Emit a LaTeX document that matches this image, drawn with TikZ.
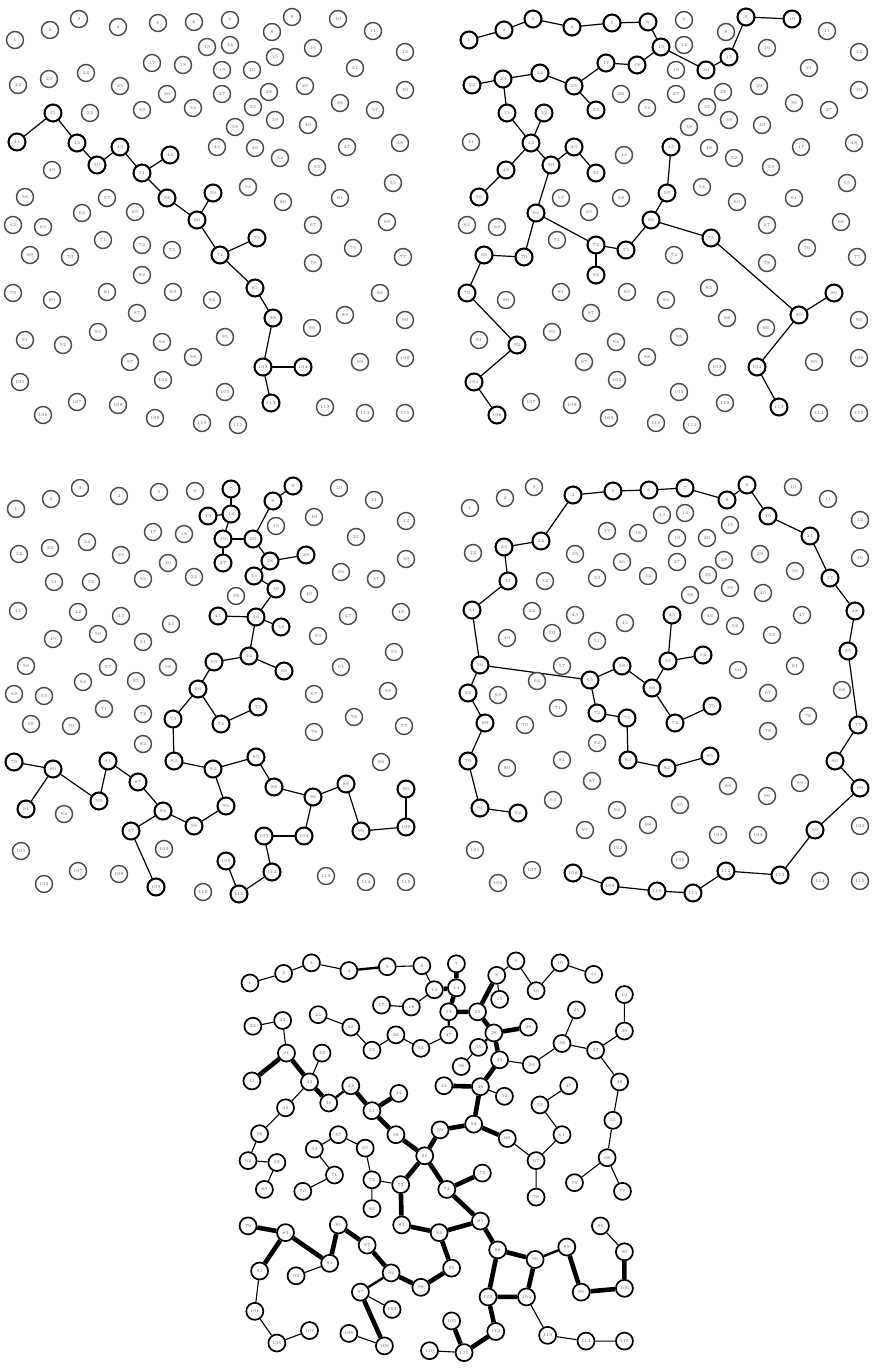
\documentclass[tikz,border=0pt]{standalone}
\usetikzlibrary{backgrounds}

% vertex positions (index/x/y), shared by all five panels
\newcommand{\vertexlist}{%
1/15/40,2/50/30,3/79/19,4/118/27,5/158/23,6/194/22,7/230/20,8/272/32,9/292/17,10/338/19,%
11/373/31,12/405/52,13/207/47,14/230/45,15/275/57,16/313/48,17/152/63,18/183/65,19/222/70,20/252/70,%
21/355/68,22/18/85,23/49/79,24/86/73,25/120/86,26/167/94,27/222/94,28/269/92,29/305/86,30/405/90,%
31/53/113,32/90/113,33/142/110,34/193/108,35/253/107,36/340/103,37/375/110,38/235/127,39/275/120,40/308/125,%
41/17/142,42/77/143,43/120/147,44/170/155,45/217/147,46/255/148,47/347/147,48/400/143,49/52/170,50/97/165,%
51/142/173,52/280/158,53/317/167,54/248/187,55/393/183,56/25/197,57/107/198,58/167/198,59/213/193,60/283/202,%
61/340/198,62/13/225,63/43/227,64/82/213,65/135/212,66/197/220,67/313/225,68/387/222,69/30/255,70/70/257,%
71/103/240,72/142/245,73/172/250,74/220/255,75/257/238,76/353/248,77/403/257,78/313/263,79/13/293,80/52/300,%
81/107/292,82/142/275,83/173/292,84/212/300,85/255/288,86/380/293,87/137/313,88/273/318,89/345/315,90/405/320,%
91/25/340,92/63/345,93/98/332,94/162/342,95/225/337,96/312/328,97/130/362,98/193/357,99/360/362,100/405/358,%
101/20/382,102/163/380,103/263/367,104/303/367,105/225/392,106/43/415,107/77/402,108/118/405,109/155/418,110/202/423,%
111/238/425,112/271/403,113/325/407,114/365/413,115/405/413}

% #1 = name prefix, #2 = vertex style
\newcommand{\placevertices}[2]{\foreach \i/\x/\y in \vertexlist {\node[#2] (#1-\i) at (\x,\y) {\i};}}

\tikzset{
  vertex/.style={circle,draw=black!72,line width=1.4pt,fill=white,minimum size=17pt,inner sep=0pt,
    font=\fontsize{4.5}{4.5}\selectfont,text=black!60},
  darkvertex/.style={vertex,draw=black,line width=1.7pt},
  pathring/.style={draw=black,line width=2pt},
  link/.style={draw=black,line width=1.2pt},
  thinlink/.style={draw=black,line width=1.1pt},
  midlink/.style={draw=black,line width=2.4pt},
  thicklink/.style={draw=black,line width=4.6pt},
}

\begin{document}
\begin{tikzpicture}[x=1pt,y=-1pt]
\useasboundingbox (0,0) rectangle (871,1368);

% panel 1: top left
\begin{scope}
\placevertices{a}{vertex}
\begin{scope}[on background layer]
\foreach \u/\v in {41/31,31/42,42/50,50/43,43/51,51/44,51/58,58/66,59/66,66/74,74/75,74/85,85/88,88/103,103/104,103/112}
  \draw[link] (a-\u) -- (a-\v);
\end{scope}
\foreach \i in {41,31,42,50,43,51,44,58,66,59,74,75,85,88,103,104,112}
  \draw[pathring] (a-\i.center) circle[radius=8.5pt];
\end{scope}

% panel 2: top right
\begin{scope}[shift={(454,0)}]
\placevertices{b}{vertex}
\begin{scope}[on background layer]
\foreach \u/\v in {1/2,2/3,3/4,4/5,5/6,6/13,13/20,20/15,15/9,9/10,13/18,18/17,17/25,25/24,25/33,24/23,23/22,23/31,
  31/42,42/32,42/49,49/56,42/50,50/43,43/51,50/64,64/70,70/69,69/79,79/92,92/101,101/106,64/72,72/82,72/73,
  73/66,66/59,59/45,66/75,75/89,89/86,89/104,104/113}
  \draw[link] (b-\u) -- (b-\v);
\end{scope}
\foreach \i in {1,2,3,4,5,6,13,20,15,9,10,18,17,25,24,33,23,22,31,42,32,49,56,50,43,51,64,70,69,79,92,101,106,
  72,82,73,66,59,45,75,89,86,104,113}
  \draw[pathring] (b-\i.center) circle[radius=8.5pt];
\end{scope}

% panel 3: middle left
\begin{scope}[shift={(1,469)}]
\placevertices{c}{vertex}
\begin{scope}[on background layer]
\foreach \u/\v in {7/14,14/13,14/19,19/27,19/20,20/8,8/9,20/28,28/29,28/35,35/39,39/46,46/45,46/52,46/54,54/59,
  54/60,59/66,66/73,66/74,74/75,73/83,83/84,84/85,85/88,88/96,96/89,89/99,99/100,100/90,96/104,104/103,
  103/112,112/111,111/105,84/95,95/98,98/94,94/87,87/81,81/93,93/80,80/79,80/91,94/97,97/109}
  \draw[link] (c-\u) -- (c-\v);
\end{scope}
\foreach \i in {7,14,13,19,27,20,8,9,28,29,35,39,46,45,52,54,59,60,66,73,74,75,83,84,85,88,96,89,99,100,90,
  104,103,112,111,105,95,98,94,87,81,93,80,79,91,97,109}
  \draw[pathring] (c-\i.center) circle[radius=8.5pt];
\end{scope}

% panel 4: middle right
\begin{scope}[shift={(455,468)}]
\placevertices{d}{vertex}
\begin{scope}[on background layer]
\foreach \u/\v in {4/5,5/6,6/7,7/8,8/9,9/16,16/21,21/37,37/48,48/55,55/77,77/86,86/90,90/99,99/113,113/112,
  112/111,111/110,110/109,109/108,4/24,24/23,23/31,31/41,41/56,56/62,62/69,69/79,79/91,91/92,56/65,65/72,
  72/73,73/83,83/84,84/85,65/58,58/66,66/59,59/45,59/54,66/74,74/75}
  \draw[link] (d-\u) -- (d-\v);
\end{scope}
\foreach \i in {4,5,6,7,8,9,16,21,37,48,55,77,86,90,99,113,112,111,110,109,108,24,23,31,41,56,62,69,79,91,92,
  65,72,73,83,84,85,58,66,59,45,54,74,75}
  \draw[pathring] (d-\i.center) circle[radius=8.5pt];
\end{scope}

% panel 5: bottom, union of the paths, weighted
\begin{scope}[shift={(235.6,944.6)},scale=0.96]
\placevertices{e}{darkvertex}
\begin{scope}[on background layer]
\foreach \u/\v in {1/2,2/3,3/4,5/6,6/13,13/18,18/17,22/23,23/31,42/32,42/49,49/56,56/62,62/63,63/69,24/25,
  25/33,33/26,26/34,34/27,8/9,9/16,16/10,10/11,8/15,35/38,39/40,40/36,36/21,36/37,37/30,30/12,37/48,48/55,
  55/68,68/76,68/77,46/52,60/67,47/53,53/61,61/67,67/78,64/57,57/65,65/72,64/71,71/70,72/73,72/82,91/101,
  101/106,106/107,92/93,97/102,108/109,86/90,111/110,104/113,113/114,114/115}
  \draw[thinlink] (e-\u) -- (e-\v);
\foreach \u/\v in {4/5,43/50,27/19,28/35,94/97,96/89}
  \draw[midlink] (e-\u) -- (e-\v);
\foreach \u/\v in {13/14,14/7,14/19,19/20,20/8,20/28,28/29,28/39,39/46,46/45,46/54,54/59,54/60,31/41,31/42,
  42/50,43/51,51/44,51/58,58/66,66/59,73/66,73/83,83/84,79/80,80/93,80/91,93/81,81/87,87/94,94/98,97/109,
  66/74,74/75,74/85,85/84,84/95,95/98,85/88,88/96,89/99,99/100,100/90,88/103,103/104,96/104,103/112,
  112/111,111/105}
  \draw[thicklink] (e-\u) -- (e-\v);
\end{scope}
\end{scope}
\end{tikzpicture}
\end{document}
